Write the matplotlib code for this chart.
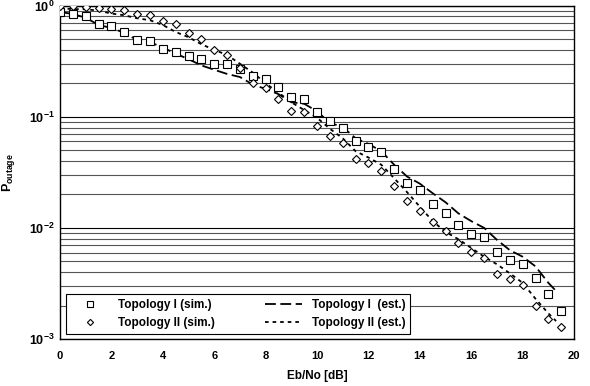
import numpy as np
import matplotlib
matplotlib.use('Agg')
import matplotlib.pyplot as plt
from matplotlib.ticker import FixedLocator, NullFormatter

plt.rcParams['font.family'] = ['Liberation Sans', 'DejaVu Sans']
plt.rcParams['font.weight'] = 'bold'
plt.rcParams['mathtext.fontset'] = 'custom'
plt.rcParams['mathtext.rm'] = 'Liberation Sans:bold'
plt.rcParams['mathtext.it'] = 'Liberation Sans:bold'
plt.rcParams['mathtext.bf'] = 'Liberation Sans:bold'

###################################################
# simulated points, every 0.5 dB
ebno_sim = np.arange(0, 20, 0.5)
sim_I = [0.88, 0.84, 0.80, 0.68, 0.65, 0.58, 0.49, 0.48, 0.41, 0.38,
         0.35, 0.33, 0.30, 0.30, 0.27, 0.233, 0.218, 0.187, 0.151, 0.146,
         0.111, 0.0925, 0.080, 0.0607, 0.054, 0.0477, 0.0338, 0.0253, 0.0217, 0.0164,
         0.0137, 0.0107, 0.00885, 0.0082, 0.00605, 0.00515, 0.00474, 0.00352, 0.00255, 0.0018]
sim_II = [1.0, 0.99, 0.98, 0.95, 0.93, 0.915, 0.84, 0.82, 0.73, 0.68,
          0.565, 0.50, 0.40, 0.36, 0.274, 0.203, 0.182, 0.146, 0.112, 0.110,
          0.0834, 0.0673, 0.0586, 0.0416, 0.0383, 0.0328, 0.0239, 0.0175, 0.0143, 0.0114,
          0.0094, 0.0073, 0.00605, 0.00535, 0.00384, 0.0035, 0.00303, 0.0020, 0.00152, 0.00128]

# estimated curves
ebno_est = [0, 0.5, 1, 1.5, 2, 2.5, 3, 3.5, 4, 4.5, 5, 5.5, 6, 6.5, 7, 7.5, 8, 8.5, 9, 9.5,
            10, 10.5, 11, 11.5, 12, 12.5, 13, 13.5, 14, 14.5, 15, 15.5, 16, 16.5, 17, 17.5,
            18, 18.5, 19, 19.3]
est_I = [0.88, 0.84, 0.78, 0.67, 0.63, 0.57, 0.49, 0.47, 0.42, 0.37,
         0.33, 0.29, 0.265, 0.243, 0.228, 0.195, 0.178, 0.16, 0.135, 0.131,
         0.112, 0.088, 0.081, 0.064, 0.057, 0.049, 0.037, 0.029, 0.025, 0.0205,
         0.0170, 0.0135, 0.0115, 0.0100, 0.0078, 0.0063, 0.0055, 0.0045, 0.0032, 0.0027]
est_II = [0.95, 0.93, 0.93, 0.90, 0.85, 0.82, 0.77, 0.74, 0.67, 0.58,
          0.52, 0.45, 0.40, 0.36, 0.30, 0.25, 0.20, 0.165, 0.135, 0.115,
          0.098, 0.078, 0.064, 0.049, 0.043, 0.037, 0.028, 0.021, 0.0155, 0.0115,
          0.0092, 0.0079, 0.0066, 0.0055, 0.0047, 0.0039, 0.0032, 0.0023, 0.0017, 0.00145]
###################################################

fig = plt.figure(figsize=(5.9, 3.86), dpi=100)
ax = fig.add_axes([0.1017, 0.1218, 0.8713, 0.8635])

ax.plot(ebno_sim, sim_I, ls='none', marker='s', ms=5.5, mfc='white', mec='black', mew=0.8,
        label='Topology I (sim.)', zorder=4)
ax.plot(ebno_sim, sim_II, ls='none', marker='D', ms=4.2, mfc='white', mec='black', mew=0.8,
        label='Topology II (sim.)', zorder=4)
ax.plot(ebno_est, est_I, color='black', lw=1.3, dashes=(6, 2.5),
        label='Topology I  (est.)', zorder=3)
ax.plot(ebno_est, est_II, color='black', lw=1.3, dashes=(2, 2.2),
        label='Topology II (est.)', zorder=3)

ax.set_yscale('log')
ax.set_ylim(1e-3, 1)
ax.set_xlim(0, 20)
ax.set_xticks(np.arange(0, 21, 2))
ax.set_yticks([1e-3, 1e-2, 1e-1, 1])
ax.set_yticklabels([r'$10^{-3}$', r'$10^{-2}$', r'$10^{-1}$', r'$10^{0}$'])
minors = [m*10.0**e for e in range(-3, 0) for m in range(2, 10)]
ax.yaxis.set_minor_locator(FixedLocator(minors))
ax.yaxis.set_minor_formatter(NullFormatter())
ax.tick_params(axis='x', which='both', length=0, labelsize=8, pad=9)
ax.tick_params(axis='y', which='both', length=0, labelsize=9, pad=4)
ax.grid(True, axis='y', which='major', color='black', lw=0.8)
ax.grid(True, axis='y', which='minor', color='#555555', lw=0.8)
ax.set_axisbelow(True)
for s in ax.spines.values():
    s.set_linewidth(1.0)

ax.set_xlabel('Eb/No [dB]', fontsize=8.5, fontweight='bold', labelpad=6)
ax.set_ylabel(r'P$_{outage}$', fontsize=9, fontweight='bold')
ax.yaxis.set_label_coords(-0.084, 0.5)

leg = ax.legend(ncol=2, loc='lower left', bbox_to_anchor=(0.012, 0.016), fontsize=8.5,
                fancybox=False, framealpha=1, edgecolor='black', markerscale=0.75,
                handlelength=3.2, columnspacing=4.2, borderpad=0.4, labelspacing=0.5,
                borderaxespad=0)
leg.get_frame().set_linewidth(0.8)

fig.savefig('out.png', dpi=100)
